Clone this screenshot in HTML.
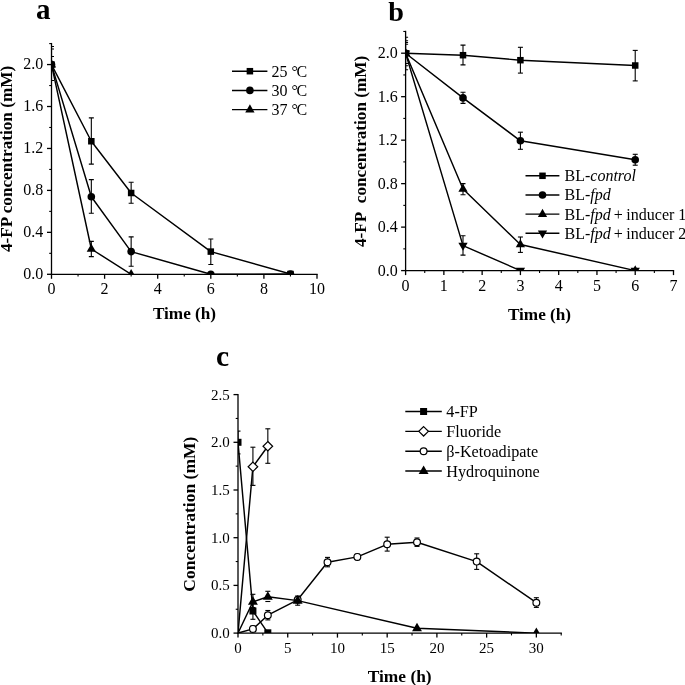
<!DOCTYPE html>
<html lang="en">
<head>
<meta charset="utf-8">
<title>4-FP degradation figure</title>
<style>
html,body{margin:0;padding:0;background:#fff;}
body{width:685px;height:685px;overflow:hidden;}
svg{display:block;will-change:transform;}
svg text{font-family:"Liberation Serif","Times New Roman",serif;fill:#000;}
</style>
</head>
<body>
<svg width="685" height="685" viewBox="0 0 685 685">
<rect x="0" y="0" width="685" height="685" fill="#fff"/>
<line x1="51.50" y1="42.94" x2="51.50" y2="274.95" stroke="#000" stroke-width="1.3"/>
<line x1="50.85" y1="274.30" x2="317.65" y2="274.30" stroke="#000" stroke-width="1.3"/>
<line x1="47.00" y1="274.30" x2="51.50" y2="274.30" stroke="#000" stroke-width="1.3"/>
<line x1="49.20" y1="253.33" x2="51.50" y2="253.33" stroke="#000" stroke-width="1.1"/>
<line x1="47.00" y1="232.35" x2="51.50" y2="232.35" stroke="#000" stroke-width="1.3"/>
<line x1="49.20" y1="211.38" x2="51.50" y2="211.38" stroke="#000" stroke-width="1.1"/>
<line x1="47.00" y1="190.40" x2="51.50" y2="190.40" stroke="#000" stroke-width="1.3"/>
<line x1="49.20" y1="169.43" x2="51.50" y2="169.43" stroke="#000" stroke-width="1.1"/>
<line x1="47.00" y1="148.46" x2="51.50" y2="148.46" stroke="#000" stroke-width="1.3"/>
<line x1="49.20" y1="127.48" x2="51.50" y2="127.48" stroke="#000" stroke-width="1.1"/>
<line x1="47.00" y1="106.51" x2="51.50" y2="106.51" stroke="#000" stroke-width="1.3"/>
<line x1="49.20" y1="85.53" x2="51.50" y2="85.53" stroke="#000" stroke-width="1.1"/>
<line x1="47.00" y1="64.56" x2="51.50" y2="64.56" stroke="#000" stroke-width="1.3"/>
<line x1="49.20" y1="43.59" x2="51.50" y2="43.59" stroke="#000" stroke-width="1.1"/>
<line x1="51.50" y1="274.30" x2="51.50" y2="278.80" stroke="#000" stroke-width="1.3"/>
<line x1="78.05" y1="274.30" x2="78.05" y2="276.60" stroke="#000" stroke-width="1.1"/>
<line x1="104.60" y1="274.30" x2="104.60" y2="278.80" stroke="#000" stroke-width="1.3"/>
<line x1="131.15" y1="274.30" x2="131.15" y2="276.60" stroke="#000" stroke-width="1.1"/>
<line x1="157.70" y1="274.30" x2="157.70" y2="278.80" stroke="#000" stroke-width="1.3"/>
<line x1="184.25" y1="274.30" x2="184.25" y2="276.60" stroke="#000" stroke-width="1.1"/>
<line x1="210.80" y1="274.30" x2="210.80" y2="278.80" stroke="#000" stroke-width="1.3"/>
<line x1="237.35" y1="274.30" x2="237.35" y2="276.60" stroke="#000" stroke-width="1.1"/>
<line x1="263.90" y1="274.30" x2="263.90" y2="278.80" stroke="#000" stroke-width="1.3"/>
<line x1="290.45" y1="274.30" x2="290.45" y2="276.60" stroke="#000" stroke-width="1.1"/>
<line x1="317.00" y1="274.30" x2="317.00" y2="278.80" stroke="#000" stroke-width="1.3"/>
<text x="43.30" y="279.00" font-size="16" text-anchor="end">0.0</text>
<text x="43.30" y="237.05" font-size="16" text-anchor="end">0.4</text>
<text x="43.30" y="195.10" font-size="16" text-anchor="end">0.8</text>
<text x="43.30" y="153.16" font-size="16" text-anchor="end">1.2</text>
<text x="43.30" y="111.21" font-size="16" text-anchor="end">1.6</text>
<text x="43.30" y="69.26" font-size="16" text-anchor="end">2.0</text>
<text x="51.50" y="294.30" font-size="16" text-anchor="middle">0</text>
<text x="104.60" y="294.30" font-size="16" text-anchor="middle">2</text>
<text x="157.70" y="294.30" font-size="16" text-anchor="middle">4</text>
<text x="210.80" y="294.30" font-size="16" text-anchor="middle">6</text>
<text x="263.90" y="294.30" font-size="16" text-anchor="middle">8</text>
<text x="317.00" y="294.30" font-size="16" text-anchor="middle">10</text>
<text x="184.50" y="318.60" font-size="17.2" text-anchor="middle" font-weight="bold">Time (h)</text>
<text transform="translate(11.80,158.90) rotate(-90)" font-size="17.2" text-anchor="middle" font-weight="bold">4-FP concentration (mM)</text>
<text x="36.10" y="18.70" font-size="29" text-anchor="start" font-weight="bold">a</text>
<clipPath id="ca"><rect x="51.5" y="0" width="300" height="274"/></clipPath><g clip-path="url(#ca)">
<line x1="51.50" y1="46.50" x2="51.50" y2="80.50" stroke="#000" stroke-width="1.1"/>
<line x1="49.00" y1="46.50" x2="54.00" y2="46.50" stroke="#000" stroke-width="1.1"/>
<line x1="49.00" y1="80.50" x2="54.00" y2="80.50" stroke="#000" stroke-width="1.1"/>
<line x1="49.00" y1="49.00" x2="54.00" y2="49.00" stroke="#000" stroke-width="1.1"/>
<line x1="49.00" y1="56.50" x2="54.00" y2="56.50" stroke="#000" stroke-width="1.1"/>
<line x1="49.00" y1="80.50" x2="54.00" y2="80.50" stroke="#000" stroke-width="1.1"/>
<line x1="91.33" y1="117.90" x2="91.33" y2="164.10" stroke="#000" stroke-width="1.1"/>
<line x1="88.83" y1="117.90" x2="93.83" y2="117.90" stroke="#000" stroke-width="1.1"/>
<line x1="88.83" y1="164.10" x2="93.83" y2="164.10" stroke="#000" stroke-width="1.1"/>
<line x1="131.15" y1="182.20" x2="131.15" y2="203.30" stroke="#000" stroke-width="1.1"/>
<line x1="128.65" y1="182.20" x2="133.65" y2="182.20" stroke="#000" stroke-width="1.1"/>
<line x1="128.65" y1="203.30" x2="133.65" y2="203.30" stroke="#000" stroke-width="1.1"/>
<line x1="210.80" y1="239.00" x2="210.80" y2="264.50" stroke="#000" stroke-width="1.1"/>
<line x1="208.30" y1="239.00" x2="213.30" y2="239.00" stroke="#000" stroke-width="1.1"/>
<line x1="208.30" y1="264.50" x2="213.30" y2="264.50" stroke="#000" stroke-width="1.1"/>
<line x1="91.33" y1="179.60" x2="91.33" y2="213.20" stroke="#000" stroke-width="1.1"/>
<line x1="88.83" y1="179.60" x2="93.83" y2="179.60" stroke="#000" stroke-width="1.1"/>
<line x1="88.83" y1="213.20" x2="93.83" y2="213.20" stroke="#000" stroke-width="1.1"/>
<line x1="131.15" y1="236.90" x2="131.15" y2="266.30" stroke="#000" stroke-width="1.1"/>
<line x1="128.65" y1="236.90" x2="133.65" y2="236.90" stroke="#000" stroke-width="1.1"/>
<line x1="128.65" y1="266.30" x2="133.65" y2="266.30" stroke="#000" stroke-width="1.1"/>
<line x1="91.33" y1="241.40" x2="91.33" y2="256.60" stroke="#000" stroke-width="1.1"/>
<line x1="88.83" y1="241.40" x2="93.83" y2="241.40" stroke="#000" stroke-width="1.1"/>
<line x1="88.83" y1="256.60" x2="93.83" y2="256.60" stroke="#000" stroke-width="1.1"/>
<polyline points="51.50,64.60 91.33,141.25 131.15,193.00 210.80,251.60 290.45,274.00" fill="none" stroke="#000" stroke-width="1.45" stroke-linejoin="round"/>
<polyline points="51.50,64.60 91.33,196.70 131.15,251.60 210.80,274.30 290.45,274.00" fill="none" stroke="#000" stroke-width="1.45" stroke-linejoin="round"/>
<polyline points="51.50,64.60 91.33,249.00 131.15,274.30" fill="none" stroke="#000" stroke-width="1.45" stroke-linejoin="round"/>
<rect x="48.25" y="61.35" width="6.5" height="6.5" fill="#000"/>
<rect x="88.08" y="138.00" width="6.5" height="6.5" fill="#000"/>
<rect x="127.90" y="189.75" width="6.5" height="6.5" fill="#000"/>
<rect x="207.55" y="248.35" width="6.5" height="6.5" fill="#000"/>
<rect x="287.20" y="270.75" width="6.5" height="6.5" fill="#000"/>
<polygon points="51.50,59.33 56.15,67.43 46.85,67.43" fill="#000"/>
<polygon points="91.33,243.74 95.98,251.84 86.67,251.84" fill="#000"/>
<polygon points="131.15,269.04 135.80,277.13 126.50,277.13" fill="#000"/>
<circle cx="51.50" cy="64.60" r="3.8" fill="#000"/>
<circle cx="91.33" cy="196.70" r="3.8" fill="#000"/>
<circle cx="131.15" cy="251.60" r="3.8" fill="#000"/>
<circle cx="210.80" cy="274.30" r="3.8" fill="#000"/>
<circle cx="290.45" cy="274.00" r="3.8" fill="#000"/>
</g>
<line x1="232.00" y1="71.20" x2="267.40" y2="71.20" stroke="#000" stroke-width="1.45"/>
<rect x="246.65" y="67.95" width="6.5" height="6.5" fill="#000"/>
<text x="271.40" y="76.60" font-size="16" text-anchor="start">25 °<tspan dx="-1.4">C</tspan></text>
<line x1="232.00" y1="90.40" x2="267.40" y2="90.40" stroke="#000" stroke-width="1.45"/>
<circle cx="249.90" cy="90.40" r="3.8" fill="#000"/>
<text x="271.40" y="95.80" font-size="16" text-anchor="start">30 °<tspan dx="-1.4">C</tspan></text>
<line x1="232.00" y1="109.60" x2="267.40" y2="109.60" stroke="#000" stroke-width="1.45"/>
<polygon points="249.90,104.33 254.55,112.43 245.25,112.43" fill="#000"/>
<text x="271.40" y="115.00" font-size="16" text-anchor="start">37 °<tspan dx="-1.4">C</tspan></text>
<line x1="405.60" y1="30.81" x2="405.60" y2="271.25" stroke="#000" stroke-width="1.3"/>
<line x1="404.95" y1="270.60" x2="674.14" y2="270.60" stroke="#000" stroke-width="1.3"/>
<line x1="401.10" y1="270.60" x2="405.60" y2="270.60" stroke="#000" stroke-width="1.3"/>
<line x1="403.30" y1="248.86" x2="405.60" y2="248.86" stroke="#000" stroke-width="1.1"/>
<line x1="401.10" y1="227.12" x2="405.60" y2="227.12" stroke="#000" stroke-width="1.3"/>
<line x1="403.30" y1="205.38" x2="405.60" y2="205.38" stroke="#000" stroke-width="1.1"/>
<line x1="401.10" y1="183.64" x2="405.60" y2="183.64" stroke="#000" stroke-width="1.3"/>
<line x1="403.30" y1="161.90" x2="405.60" y2="161.90" stroke="#000" stroke-width="1.1"/>
<line x1="401.10" y1="140.16" x2="405.60" y2="140.16" stroke="#000" stroke-width="1.3"/>
<line x1="403.30" y1="118.42" x2="405.60" y2="118.42" stroke="#000" stroke-width="1.1"/>
<line x1="401.10" y1="96.68" x2="405.60" y2="96.68" stroke="#000" stroke-width="1.3"/>
<line x1="403.30" y1="74.94" x2="405.60" y2="74.94" stroke="#000" stroke-width="1.1"/>
<line x1="401.10" y1="53.20" x2="405.60" y2="53.20" stroke="#000" stroke-width="1.3"/>
<line x1="403.30" y1="31.46" x2="405.60" y2="31.46" stroke="#000" stroke-width="1.1"/>
<line x1="405.60" y1="270.60" x2="405.60" y2="275.10" stroke="#000" stroke-width="1.3"/>
<line x1="424.74" y1="270.60" x2="424.74" y2="272.90" stroke="#000" stroke-width="1.1"/>
<line x1="443.87" y1="270.60" x2="443.87" y2="275.10" stroke="#000" stroke-width="1.3"/>
<line x1="463.00" y1="270.60" x2="463.00" y2="272.90" stroke="#000" stroke-width="1.1"/>
<line x1="482.14" y1="270.60" x2="482.14" y2="275.10" stroke="#000" stroke-width="1.3"/>
<line x1="501.28" y1="270.60" x2="501.28" y2="272.90" stroke="#000" stroke-width="1.1"/>
<line x1="520.41" y1="270.60" x2="520.41" y2="275.10" stroke="#000" stroke-width="1.3"/>
<line x1="539.55" y1="270.60" x2="539.55" y2="272.90" stroke="#000" stroke-width="1.1"/>
<line x1="558.68" y1="270.60" x2="558.68" y2="275.10" stroke="#000" stroke-width="1.3"/>
<line x1="577.82" y1="270.60" x2="577.82" y2="272.90" stroke="#000" stroke-width="1.1"/>
<line x1="596.95" y1="270.60" x2="596.95" y2="275.10" stroke="#000" stroke-width="1.3"/>
<line x1="616.09" y1="270.60" x2="616.09" y2="272.90" stroke="#000" stroke-width="1.1"/>
<line x1="635.22" y1="270.60" x2="635.22" y2="275.10" stroke="#000" stroke-width="1.3"/>
<line x1="654.36" y1="270.60" x2="654.36" y2="272.90" stroke="#000" stroke-width="1.1"/>
<line x1="673.49" y1="270.60" x2="673.49" y2="275.10" stroke="#000" stroke-width="1.3"/>
<text x="397.80" y="275.80" font-size="16" text-anchor="end">0.0</text>
<text x="397.80" y="232.32" font-size="16" text-anchor="end">0.4</text>
<text x="397.80" y="188.84" font-size="16" text-anchor="end">0.8</text>
<text x="397.80" y="145.36" font-size="16" text-anchor="end">1.2</text>
<text x="397.80" y="101.88" font-size="16" text-anchor="end">1.6</text>
<text x="397.80" y="58.40" font-size="16" text-anchor="end">2.0</text>
<text x="405.60" y="290.80" font-size="16" text-anchor="middle">0</text>
<text x="443.87" y="290.80" font-size="16" text-anchor="middle">1</text>
<text x="482.14" y="290.80" font-size="16" text-anchor="middle">2</text>
<text x="520.41" y="290.80" font-size="16" text-anchor="middle">3</text>
<text x="558.68" y="290.80" font-size="16" text-anchor="middle">4</text>
<text x="596.95" y="290.80" font-size="16" text-anchor="middle">5</text>
<text x="635.22" y="290.80" font-size="16" text-anchor="middle">6</text>
<text x="673.49" y="290.80" font-size="16" text-anchor="middle">7</text>
<text x="539.50" y="319.60" font-size="17.2" text-anchor="middle" font-weight="bold">Time (h)</text>
<text transform="translate(366.10,151.40) rotate(-90)" font-size="17.2" text-anchor="middle" font-weight="bold">4-FP&#160; concentration (mM)</text>
<text x="388.30" y="20.60" font-size="28.2" text-anchor="start" font-weight="bold">b</text>
<clipPath id="cb"><rect x="405.6" y="0" width="300" height="270.6"/></clipPath><g clip-path="url(#cb)">
<line x1="405.60" y1="37.30" x2="405.60" y2="69.70" stroke="#000" stroke-width="1.1"/>
<line x1="403.10" y1="37.30" x2="408.10" y2="37.30" stroke="#000" stroke-width="1.1"/>
<line x1="403.10" y1="69.70" x2="408.10" y2="69.70" stroke="#000" stroke-width="1.1"/>
<line x1="403.10" y1="40.80" x2="408.10" y2="40.80" stroke="#000" stroke-width="1.1"/>
<line x1="403.10" y1="42.50" x2="408.10" y2="42.50" stroke="#000" stroke-width="1.1"/>
<line x1="403.10" y1="44.30" x2="408.10" y2="44.30" stroke="#000" stroke-width="1.1"/>
<line x1="403.10" y1="63.50" x2="408.10" y2="63.50" stroke="#000" stroke-width="1.1"/>
<line x1="403.10" y1="65.70" x2="408.10" y2="65.70" stroke="#000" stroke-width="1.1"/>
<line x1="463.00" y1="45.10" x2="463.00" y2="64.90" stroke="#000" stroke-width="1.1"/>
<line x1="460.50" y1="45.10" x2="465.50" y2="45.10" stroke="#000" stroke-width="1.1"/>
<line x1="460.50" y1="64.90" x2="465.50" y2="64.90" stroke="#000" stroke-width="1.1"/>
<line x1="520.41" y1="47.30" x2="520.41" y2="73.10" stroke="#000" stroke-width="1.1"/>
<line x1="517.91" y1="47.30" x2="522.91" y2="47.30" stroke="#000" stroke-width="1.1"/>
<line x1="517.91" y1="73.10" x2="522.91" y2="73.10" stroke="#000" stroke-width="1.1"/>
<line x1="635.22" y1="50.40" x2="635.22" y2="80.90" stroke="#000" stroke-width="1.1"/>
<line x1="632.72" y1="50.40" x2="637.72" y2="50.40" stroke="#000" stroke-width="1.1"/>
<line x1="632.72" y1="80.90" x2="637.72" y2="80.90" stroke="#000" stroke-width="1.1"/>
<line x1="463.00" y1="92.20" x2="463.00" y2="103.40" stroke="#000" stroke-width="1.1"/>
<line x1="460.50" y1="92.20" x2="465.50" y2="92.20" stroke="#000" stroke-width="1.1"/>
<line x1="460.50" y1="103.40" x2="465.50" y2="103.40" stroke="#000" stroke-width="1.1"/>
<line x1="520.41" y1="132.20" x2="520.41" y2="149.30" stroke="#000" stroke-width="1.1"/>
<line x1="517.91" y1="132.20" x2="522.91" y2="132.20" stroke="#000" stroke-width="1.1"/>
<line x1="517.91" y1="149.30" x2="522.91" y2="149.30" stroke="#000" stroke-width="1.1"/>
<line x1="635.22" y1="154.30" x2="635.22" y2="165.20" stroke="#000" stroke-width="1.1"/>
<line x1="632.72" y1="154.30" x2="637.72" y2="154.30" stroke="#000" stroke-width="1.1"/>
<line x1="632.72" y1="165.20" x2="637.72" y2="165.20" stroke="#000" stroke-width="1.1"/>
<line x1="463.00" y1="183.60" x2="463.00" y2="194.80" stroke="#000" stroke-width="1.1"/>
<line x1="460.50" y1="183.60" x2="465.50" y2="183.60" stroke="#000" stroke-width="1.1"/>
<line x1="460.50" y1="194.80" x2="465.50" y2="194.80" stroke="#000" stroke-width="1.1"/>
<line x1="520.41" y1="237.00" x2="520.41" y2="252.40" stroke="#000" stroke-width="1.1"/>
<line x1="517.91" y1="237.00" x2="522.91" y2="237.00" stroke="#000" stroke-width="1.1"/>
<line x1="517.91" y1="252.40" x2="522.91" y2="252.40" stroke="#000" stroke-width="1.1"/>
<line x1="463.00" y1="235.80" x2="463.00" y2="255.10" stroke="#000" stroke-width="1.1"/>
<line x1="460.50" y1="235.80" x2="465.50" y2="235.80" stroke="#000" stroke-width="1.1"/>
<line x1="460.50" y1="255.10" x2="465.50" y2="255.10" stroke="#000" stroke-width="1.1"/>
<polyline points="405.60,53.25 463.00,55.20 520.41,60.20 635.22,65.50" fill="none" stroke="#000" stroke-width="1.45" stroke-linejoin="round"/>
<polyline points="405.60,53.25 463.00,97.90 520.41,140.80 635.22,159.70" fill="none" stroke="#000" stroke-width="1.45" stroke-linejoin="round"/>
<polyline points="405.60,53.25 463.00,189.00 520.41,244.50 635.22,270.60" fill="none" stroke="#000" stroke-width="1.45" stroke-linejoin="round"/>
<polyline points="405.60,53.25 463.00,245.60 520.41,270.60 635.22,270.60" fill="none" stroke="#000" stroke-width="1.45" stroke-linejoin="round"/>
<rect x="402.35" y="50.00" width="6.5" height="6.5" fill="#000"/>
<rect x="459.75" y="51.95" width="6.5" height="6.5" fill="#000"/>
<rect x="517.16" y="56.95" width="6.5" height="6.5" fill="#000"/>
<rect x="631.97" y="62.25" width="6.5" height="6.5" fill="#000"/>
<circle cx="405.60" cy="53.25" r="3.8" fill="#000"/>
<circle cx="463.00" cy="97.90" r="3.8" fill="#000"/>
<circle cx="520.41" cy="140.80" r="3.8" fill="#000"/>
<circle cx="635.22" cy="159.70" r="3.8" fill="#000"/>
<polygon points="405.60,58.52 410.25,50.41 400.95,50.41" fill="#000"/>
<polygon points="463.00,250.86 467.65,242.76 458.36,242.76" fill="#000"/>
<polygon points="520.41,275.87 525.06,267.77 515.76,267.77" fill="#000"/>
<polygon points="635.22,275.87 639.87,267.77 630.57,267.77" fill="#000"/>
<polygon points="405.60,47.98 410.25,56.09 400.95,56.09" fill="#000"/>
<polygon points="463.00,183.74 467.65,191.84 458.36,191.84" fill="#000"/>
<polygon points="520.41,239.24 525.06,247.34 515.76,247.34" fill="#000"/>
<polygon points="635.22,265.34 639.87,273.44 630.57,273.44" fill="#000"/>
</g>
<line x1="525.50" y1="175.80" x2="559.40" y2="175.80" stroke="#000" stroke-width="1.45"/>
<rect x="539.25" y="172.55" width="6.5" height="6.5" fill="#000"/>
<text x="564.50" y="181.20" font-size="16" text-anchor="start">BL-<tspan font-style="italic">control</tspan></text>
<line x1="525.50" y1="194.95" x2="559.40" y2="194.95" stroke="#000" stroke-width="1.45"/>
<circle cx="542.50" cy="194.95" r="3.8" fill="#000"/>
<text x="564.50" y="200.35" font-size="16" text-anchor="start">BL-<tspan font-style="italic">fpd</tspan></text>
<line x1="525.50" y1="214.10" x2="559.40" y2="214.10" stroke="#000" stroke-width="1.45"/>
<polygon points="542.50,208.84 547.15,216.94 537.85,216.94" fill="#000"/>
<text x="564.50" y="219.50" font-size="16" text-anchor="start">BL-<tspan font-style="italic">fpd</tspan><tspan dx="-0.9"> +</tspan><tspan dx="-0.5"> inducer 1</tspan></text>
<line x1="525.50" y1="233.25" x2="559.40" y2="233.25" stroke="#000" stroke-width="1.45"/>
<polygon points="542.50,238.51 547.15,230.41 537.85,230.41" fill="#000"/>
<text x="564.50" y="238.65" font-size="16" text-anchor="start">BL-<tspan font-style="italic">fpd</tspan><tspan dx="-0.9"> +</tspan><tspan dx="-0.5"> inducer 2</tspan></text>
<line x1="238.00" y1="393.95" x2="238.00" y2="633.75" stroke="#000" stroke-width="1.3"/>
<line x1="237.35" y1="633.10" x2="561.86" y2="633.10" stroke="#000" stroke-width="1.3"/>
<line x1="233.50" y1="633.10" x2="238.00" y2="633.10" stroke="#000" stroke-width="1.3"/>
<line x1="235.70" y1="609.25" x2="238.00" y2="609.25" stroke="#000" stroke-width="1.1"/>
<line x1="233.50" y1="585.40" x2="238.00" y2="585.40" stroke="#000" stroke-width="1.3"/>
<line x1="235.70" y1="561.55" x2="238.00" y2="561.55" stroke="#000" stroke-width="1.1"/>
<line x1="233.50" y1="537.70" x2="238.00" y2="537.70" stroke="#000" stroke-width="1.3"/>
<line x1="235.70" y1="513.85" x2="238.00" y2="513.85" stroke="#000" stroke-width="1.1"/>
<line x1="233.50" y1="490.00" x2="238.00" y2="490.00" stroke="#000" stroke-width="1.3"/>
<line x1="235.70" y1="466.15" x2="238.00" y2="466.15" stroke="#000" stroke-width="1.1"/>
<line x1="233.50" y1="442.30" x2="238.00" y2="442.30" stroke="#000" stroke-width="1.3"/>
<line x1="235.70" y1="418.45" x2="238.00" y2="418.45" stroke="#000" stroke-width="1.1"/>
<line x1="233.50" y1="394.60" x2="238.00" y2="394.60" stroke="#000" stroke-width="1.3"/>
<line x1="238.00" y1="633.10" x2="238.00" y2="637.60" stroke="#000" stroke-width="1.3"/>
<line x1="262.86" y1="633.10" x2="262.86" y2="635.40" stroke="#000" stroke-width="1.1"/>
<line x1="287.73" y1="633.10" x2="287.73" y2="637.60" stroke="#000" stroke-width="1.3"/>
<line x1="312.59" y1="633.10" x2="312.59" y2="635.40" stroke="#000" stroke-width="1.1"/>
<line x1="337.45" y1="633.10" x2="337.45" y2="637.60" stroke="#000" stroke-width="1.3"/>
<line x1="362.31" y1="633.10" x2="362.31" y2="635.40" stroke="#000" stroke-width="1.1"/>
<line x1="387.18" y1="633.10" x2="387.18" y2="637.60" stroke="#000" stroke-width="1.3"/>
<line x1="412.04" y1="633.10" x2="412.04" y2="635.40" stroke="#000" stroke-width="1.1"/>
<line x1="436.90" y1="633.10" x2="436.90" y2="637.60" stroke="#000" stroke-width="1.3"/>
<line x1="461.76" y1="633.10" x2="461.76" y2="635.40" stroke="#000" stroke-width="1.1"/>
<line x1="486.62" y1="633.10" x2="486.62" y2="637.60" stroke="#000" stroke-width="1.3"/>
<line x1="511.49" y1="633.10" x2="511.49" y2="635.40" stroke="#000" stroke-width="1.1"/>
<line x1="536.35" y1="633.10" x2="536.35" y2="637.60" stroke="#000" stroke-width="1.3"/>
<line x1="561.21" y1="633.10" x2="561.21" y2="635.40" stroke="#000" stroke-width="1.1"/>
<text x="229.80" y="638.00" font-size="15" text-anchor="end">0.0</text>
<text x="229.80" y="590.30" font-size="15" text-anchor="end">0.5</text>
<text x="229.80" y="542.60" font-size="15" text-anchor="end">1.0</text>
<text x="229.80" y="494.90" font-size="15" text-anchor="end">1.5</text>
<text x="229.80" y="447.20" font-size="15" text-anchor="end">2.0</text>
<text x="229.80" y="399.50" font-size="15" text-anchor="end">2.5</text>
<text x="238.00" y="652.90" font-size="15" text-anchor="middle">0</text>
<text x="287.73" y="652.90" font-size="15" text-anchor="middle">5</text>
<text x="337.45" y="652.90" font-size="15" text-anchor="middle">10</text>
<text x="387.18" y="652.90" font-size="15" text-anchor="middle">15</text>
<text x="436.90" y="652.90" font-size="15" text-anchor="middle">20</text>
<text x="486.62" y="652.90" font-size="15" text-anchor="middle">25</text>
<text x="536.35" y="652.90" font-size="15" text-anchor="middle">30</text>
<text x="399.70" y="681.90" font-size="17.4" text-anchor="middle" font-weight="bold">Time (h)</text>
<text transform="translate(195.40,514.20) rotate(-90)" font-size="17.5" text-anchor="middle" font-weight="bold">Concentration (mM)</text>
<text x="215.90" y="365.70" font-size="29.5" text-anchor="start" font-weight="bold">c</text>
<clipPath id="cc"><rect x="238" y="343" width="340" height="290.1"/></clipPath><g clip-path="url(#cc)">
<line x1="238.00" y1="431.10" x2="238.00" y2="453.90" stroke="#000" stroke-width="1.1"/>
<line x1="235.50" y1="431.10" x2="240.50" y2="431.10" stroke="#000" stroke-width="1.1"/>
<line x1="235.50" y1="453.90" x2="240.50" y2="453.90" stroke="#000" stroke-width="1.1"/>
<line x1="252.92" y1="603.00" x2="252.92" y2="619.30" stroke="#000" stroke-width="1.1"/>
<line x1="250.42" y1="603.00" x2="255.42" y2="603.00" stroke="#000" stroke-width="1.1"/>
<line x1="250.42" y1="619.30" x2="255.42" y2="619.30" stroke="#000" stroke-width="1.1"/>
<polyline points="238.00,442.30 252.92,611.00 267.83,632.80" fill="none" stroke="#000" stroke-width="1.45" stroke-linejoin="round"/>
<rect x="234.50" y="438.80" width="7.0" height="7.0" fill="#000"/>
<rect x="249.42" y="607.50" width="7.0" height="7.0" fill="#000"/>
<rect x="264.33" y="629.30" width="7.0" height="7.0" fill="#000"/>
<line x1="252.92" y1="447.20" x2="252.92" y2="485.40" stroke="#000" stroke-width="1.1"/>
<line x1="250.42" y1="447.20" x2="255.42" y2="447.20" stroke="#000" stroke-width="1.1"/>
<line x1="250.42" y1="485.40" x2="255.42" y2="485.40" stroke="#000" stroke-width="1.1"/>
<line x1="267.83" y1="428.80" x2="267.83" y2="463.30" stroke="#000" stroke-width="1.1"/>
<line x1="265.33" y1="428.80" x2="270.33" y2="428.80" stroke="#000" stroke-width="1.1"/>
<line x1="265.33" y1="463.30" x2="270.33" y2="463.30" stroke="#000" stroke-width="1.1"/>
<polyline points="238.00,633.10 252.92,466.80 267.83,446.20" fill="none" stroke="#000" stroke-width="1.45" stroke-linejoin="round"/>
<polygon points="252.92,462.10 257.72,466.80 252.92,471.50 248.12,466.80" fill="#fff" stroke="#000" stroke-width="1.2"/>
<polygon points="267.83,441.50 272.63,446.20 267.83,450.90 263.03,446.20" fill="#fff" stroke="#000" stroke-width="1.2"/>
<line x1="267.83" y1="610.50" x2="267.83" y2="619.90" stroke="#000" stroke-width="1.1"/>
<line x1="265.33" y1="610.50" x2="270.33" y2="610.50" stroke="#000" stroke-width="1.1"/>
<line x1="265.33" y1="619.90" x2="270.33" y2="619.90" stroke="#000" stroke-width="1.1"/>
<line x1="327.50" y1="557.40" x2="327.50" y2="566.80" stroke="#000" stroke-width="1.1"/>
<line x1="325.00" y1="557.40" x2="330.00" y2="557.40" stroke="#000" stroke-width="1.1"/>
<line x1="325.00" y1="566.80" x2="330.00" y2="566.80" stroke="#000" stroke-width="1.1"/>
<line x1="357.34" y1="554.20" x2="357.34" y2="559.60" stroke="#000" stroke-width="1.1"/>
<line x1="354.84" y1="554.20" x2="359.84" y2="554.20" stroke="#000" stroke-width="1.1"/>
<line x1="354.84" y1="559.60" x2="359.84" y2="559.60" stroke="#000" stroke-width="1.1"/>
<line x1="387.18" y1="537.20" x2="387.18" y2="551.10" stroke="#000" stroke-width="1.1"/>
<line x1="384.68" y1="537.20" x2="389.68" y2="537.20" stroke="#000" stroke-width="1.1"/>
<line x1="384.68" y1="551.10" x2="389.68" y2="551.10" stroke="#000" stroke-width="1.1"/>
<line x1="417.01" y1="538.00" x2="417.01" y2="546.40" stroke="#000" stroke-width="1.1"/>
<line x1="414.51" y1="538.00" x2="419.51" y2="538.00" stroke="#000" stroke-width="1.1"/>
<line x1="414.51" y1="546.40" x2="419.51" y2="546.40" stroke="#000" stroke-width="1.1"/>
<line x1="476.68" y1="553.80" x2="476.68" y2="569.40" stroke="#000" stroke-width="1.1"/>
<line x1="474.18" y1="553.80" x2="479.18" y2="553.80" stroke="#000" stroke-width="1.1"/>
<line x1="474.18" y1="569.40" x2="479.18" y2="569.40" stroke="#000" stroke-width="1.1"/>
<line x1="536.35" y1="597.70" x2="536.35" y2="607.40" stroke="#000" stroke-width="1.1"/>
<line x1="533.85" y1="597.70" x2="538.85" y2="597.70" stroke="#000" stroke-width="1.1"/>
<line x1="533.85" y1="607.40" x2="538.85" y2="607.40" stroke="#000" stroke-width="1.1"/>
<line x1="252.92" y1="626.00" x2="252.92" y2="631.80" stroke="#000" stroke-width="1.1"/>
<line x1="250.42" y1="626.00" x2="255.42" y2="626.00" stroke="#000" stroke-width="1.1"/>
<line x1="250.42" y1="631.80" x2="255.42" y2="631.80" stroke="#000" stroke-width="1.1"/>
<polyline points="238.00,633.10 252.92,628.90 267.83,615.20 297.67,599.80 327.50,562.30 357.34,556.90 387.18,544.30 417.01,542.20 476.68,561.60 536.35,602.70" fill="none" stroke="#000" stroke-width="1.45" stroke-linejoin="round"/>
<circle cx="252.92" cy="628.90" r="3.4" fill="#fff" stroke="#000" stroke-width="1.2"/>
<circle cx="267.83" cy="615.20" r="3.4" fill="#fff" stroke="#000" stroke-width="1.2"/>
<circle cx="297.67" cy="599.80" r="3.4" fill="#fff" stroke="#000" stroke-width="1.2"/>
<circle cx="327.50" cy="562.30" r="3.4" fill="#fff" stroke="#000" stroke-width="1.2"/>
<circle cx="357.34" cy="556.90" r="3.4" fill="#fff" stroke="#000" stroke-width="1.2"/>
<circle cx="387.18" cy="544.30" r="3.4" fill="#fff" stroke="#000" stroke-width="1.2"/>
<circle cx="417.01" cy="542.20" r="3.4" fill="#fff" stroke="#000" stroke-width="1.2"/>
<circle cx="476.68" cy="561.60" r="3.4" fill="#fff" stroke="#000" stroke-width="1.2"/>
<circle cx="536.35" cy="602.70" r="3.4" fill="#fff" stroke="#000" stroke-width="1.2"/>
<line x1="252.92" y1="594.30" x2="252.92" y2="607.50" stroke="#000" stroke-width="1.1"/>
<line x1="250.42" y1="594.30" x2="255.42" y2="594.30" stroke="#000" stroke-width="1.1"/>
<line x1="250.42" y1="607.50" x2="255.42" y2="607.50" stroke="#000" stroke-width="1.1"/>
<line x1="265.33" y1="591.30" x2="270.33" y2="591.30" stroke="#000" stroke-width="1.1"/>
<line x1="265.33" y1="601.50" x2="270.33" y2="601.50" stroke="#000" stroke-width="1.1"/>
<line x1="297.67" y1="596.00" x2="297.67" y2="605.20" stroke="#000" stroke-width="1.1"/>
<line x1="295.17" y1="596.00" x2="300.17" y2="596.00" stroke="#000" stroke-width="1.1"/>
<line x1="295.17" y1="605.20" x2="300.17" y2="605.20" stroke="#000" stroke-width="1.1"/>
<polyline points="238.00,633.10 252.92,601.80 267.83,596.80 297.67,600.60 417.01,628.30 536.35,633.10" fill="none" stroke="#000" stroke-width="1.45" stroke-linejoin="round"/>
<polygon points="252.92,596.14 257.87,604.84 247.97,604.84" fill="#000"/>
<polygon points="267.83,591.14 272.78,599.84 262.88,599.84" fill="#000"/>
<polygon points="297.67,594.95 302.62,603.64 292.72,603.64" fill="#000"/>
<polygon points="417.01,622.64 421.96,631.34 412.06,631.34" fill="#000"/>
<polygon points="536.35,627.45 541.30,636.14 531.40,636.14" fill="#000"/>
</g>
<line x1="405.30" y1="411.50" x2="441.80" y2="411.50" stroke="#000" stroke-width="1.45"/>
<rect x="420.10" y="408.00" width="7.0" height="7.0" fill="#000"/>
<text x="446.30" y="417.40" font-size="16.2" text-anchor="start">4-FP</text>
<line x1="405.30" y1="431.35" x2="441.80" y2="431.35" stroke="#000" stroke-width="1.45"/>
<polygon points="423.60,426.65 428.40,431.35 423.60,436.05 418.80,431.35" fill="#fff" stroke="#000" stroke-width="1.2"/>
<text x="446.30" y="437.25" font-size="16.2" text-anchor="start">Fluoride</text>
<line x1="405.30" y1="451.20" x2="441.80" y2="451.20" stroke="#000" stroke-width="1.45"/>
<circle cx="423.60" cy="451.20" r="3.4" fill="#fff" stroke="#000" stroke-width="1.2"/>
<text x="446.30" y="457.10" font-size="16.2" text-anchor="start">β-Ketoadipate</text>
<line x1="405.30" y1="471.05" x2="441.80" y2="471.05" stroke="#000" stroke-width="1.45"/>
<polygon points="423.60,465.40 428.55,474.10 418.65,474.10" fill="#000"/>
<text x="446.30" y="476.95" font-size="16.2" text-anchor="start">Hydroquinone</text>
</svg>
</body>
</html>
